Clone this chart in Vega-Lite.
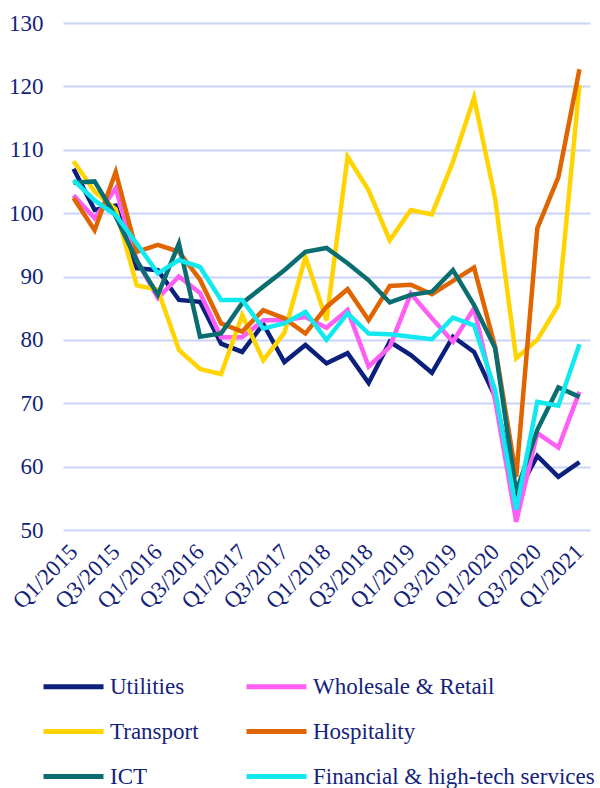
{
  "$schema": "https://vega.github.io/schema/vega-lite/v6.json",
  "width": 527,
  "height": 507,
  "autosize": {"type": "none"},
  "padding": {"left": 63, "top": 23, "right": 10, "bottom": 258},
  "config": {"view": {"stroke": null}, "font": "Liberation Serif"},
  "datasets": {
    "raw": [
      {"q":"Q1/2015","s":"Utilities","v":107.0},{"q":"Q2/2015","s":"Utilities","v":100.5},{"q":"Q3/2015","s":"Utilities","v":101.2},{"q":"Q4/2015","s":"Utilities","v":91.3},{"q":"Q1/2016","s":"Utilities","v":91.0},{"q":"Q2/2016","s":"Utilities","v":86.3},{"q":"Q3/2016","s":"Utilities","v":86.0},{"q":"Q4/2016","s":"Utilities","v":79.4},{"q":"Q1/2017","s":"Utilities","v":78.1},{"q":"Q2/2017","s":"Utilities","v":82.5},{"q":"Q3/2017","s":"Utilities","v":76.5},{"q":"Q4/2017","s":"Utilities","v":79.2},{"q":"Q1/2018","s":"Utilities","v":76.3},{"q":"Q2/2018","s":"Utilities","v":77.9},{"q":"Q3/2018","s":"Utilities","v":73.2},{"q":"Q4/2018","s":"Utilities","v":79.7},{"q":"Q1/2019","s":"Utilities","v":77.6},{"q":"Q2/2019","s":"Utilities","v":74.8},{"q":"Q3/2019","s":"Utilities","v":80.5},{"q":"Q4/2019","s":"Utilities","v":78.1},{"q":"Q1/2020","s":"Utilities","v":71.0},{"q":"Q2/2020","s":"Utilities","v":55.5},{"q":"Q3/2020","s":"Utilities","v":61.7},{"q":"Q4/2020","s":"Utilities","v":58.4},{"q":"Q1/2021","s":"Utilities","v":60.7},
      {"q":"Q1/2015","s":"Wholesale & Retail","v":102.8},{"q":"Q2/2015","s":"Wholesale & Retail","v":99.2},{"q":"Q3/2015","s":"Wholesale & Retail","v":103.9},{"q":"Q4/2015","s":"Wholesale & Retail","v":92.6},{"q":"Q1/2016","s":"Wholesale & Retail","v":86.6},{"q":"Q2/2016","s":"Wholesale & Retail","v":90.0},{"q":"Q3/2016","s":"Wholesale & Retail","v":87.4},{"q":"Q4/2016","s":"Wholesale & Retail","v":80.4},{"q":"Q1/2017","s":"Wholesale & Retail","v":80.4},{"q":"Q2/2017","s":"Wholesale & Retail","v":83.1},{"q":"Q3/2017","s":"Wholesale & Retail","v":83.1},{"q":"Q4/2017","s":"Wholesale & Retail","v":83.6},{"q":"Q1/2018","s":"Wholesale & Retail","v":81.9},{"q":"Q2/2018","s":"Wholesale & Retail","v":84.7},{"q":"Q3/2018","s":"Wholesale & Retail","v":75.8},{"q":"Q4/2018","s":"Wholesale & Retail","v":78.9},{"q":"Q1/2019","s":"Wholesale & Retail","v":87.3},{"q":"Q2/2019","s":"Wholesale & Retail","v":83.4},{"q":"Q3/2019","s":"Wholesale & Retail","v":79.7},{"q":"Q4/2019","s":"Wholesale & Retail","v":85.0},{"q":"Q1/2020","s":"Wholesale & Retail","v":70.5},{"q":"Q2/2020","s":"Wholesale & Retail","v":51.3},{"q":"Q3/2020","s":"Wholesale & Retail","v":65.3},{"q":"Q4/2020","s":"Wholesale & Retail","v":63.0},{"q":"Q1/2021","s":"Wholesale & Retail","v":71.8},
      {"q":"Q1/2015","s":"Transport","v":108.2},{"q":"Q2/2015","s":"Transport","v":103.4},{"q":"Q3/2015","s":"Transport","v":100.6},{"q":"Q4/2015","s":"Transport","v":88.6},{"q":"Q1/2016","s":"Transport","v":87.9},{"q":"Q2/2016","s":"Transport","v":78.4},{"q":"Q3/2016","s":"Transport","v":75.4},{"q":"Q4/2016","s":"Transport","v":74.6},{"q":"Q1/2017","s":"Transport","v":83.9},{"q":"Q2/2017","s":"Transport","v":76.8},{"q":"Q3/2017","s":"Transport","v":81.1},{"q":"Q4/2017","s":"Transport","v":93.1},{"q":"Q1/2018","s":"Transport","v":83.1},{"q":"Q2/2018","s":"Transport","v":108.9},{"q":"Q3/2018","s":"Transport","v":103.6},{"q":"Q4/2018","s":"Transport","v":95.7},{"q":"Q1/2019","s":"Transport","v":100.5},{"q":"Q2/2019","s":"Transport","v":99.8},{"q":"Q3/2019","s":"Transport","v":108.1},{"q":"Q4/2019","s":"Transport","v":118.2},{"q":"Q1/2020","s":"Transport","v":102.3},{"q":"Q2/2020","s":"Transport","v":77.1},{"q":"Q3/2020","s":"Transport","v":80.0},{"q":"Q4/2020","s":"Transport","v":85.5},{"q":"Q1/2021","s":"Transport","v":120.2},
      {"q":"Q1/2015","s":"Hospitality","v":102.4},{"q":"Q2/2015","s":"Hospitality","v":97.3},{"q":"Q3/2015","s":"Hospitality","v":106.5},{"q":"Q4/2015","s":"Hospitality","v":93.9},{"q":"Q1/2016","s":"Hospitality","v":95.0},{"q":"Q2/2016","s":"Hospitality","v":93.9},{"q":"Q3/2016","s":"Hospitality","v":89.5},{"q":"Q4/2016","s":"Hospitality","v":82.6},{"q":"Q1/2017","s":"Hospitality","v":81.3},{"q":"Q2/2017","s":"Hospitality","v":84.7},{"q":"Q3/2017","s":"Hospitality","v":83.4},{"q":"Q4/2017","s":"Hospitality","v":81.0},{"q":"Q1/2018","s":"Hospitality","v":85.2},{"q":"Q2/2018","s":"Hospitality","v":88.0},{"q":"Q3/2018","s":"Hospitality","v":83.1},{"q":"Q4/2018","s":"Hospitality","v":88.5},{"q":"Q1/2019","s":"Hospitality","v":88.7},{"q":"Q2/2019","s":"Hospitality","v":87.2},{"q":"Q3/2019","s":"Hospitality","v":89.3},{"q":"Q4/2019","s":"Hospitality","v":91.4},{"q":"Q1/2020","s":"Hospitality","v":78.9},{"q":"Q2/2020","s":"Hospitality","v":58.4},{"q":"Q3/2020","s":"Hospitality","v":97.6},{"q":"Q4/2020","s":"Hospitality","v":105.7},{"q":"Q1/2021","s":"Hospitality","v":122.7},
      {"q":"Q1/2015","s":"ICT","v":104.8},{"q":"Q2/2015","s":"ICT","v":105.0},{"q":"Q3/2015","s":"ICT","v":99.5},{"q":"Q4/2015","s":"ICT","v":92.5},{"q":"Q1/2016","s":"ICT","v":87.1},{"q":"Q2/2016","s":"ICT","v":95.2},{"q":"Q3/2016","s":"ICT","v":80.5},{"q":"Q4/2016","s":"ICT","v":81.0},{"q":"Q1/2017","s":"ICT","v":85.8},{"q":"Q2/2017","s":"ICT","v":88.4},{"q":"Q3/2017","s":"ICT","v":91.0},{"q":"Q4/2017","s":"ICT","v":93.9},{"q":"Q1/2018","s":"ICT","v":94.5},{"q":"Q2/2018","s":"ICT","v":92.1},{"q":"Q3/2018","s":"ICT","v":89.4},{"q":"Q4/2018","s":"ICT","v":85.9},{"q":"Q1/2019","s":"ICT","v":87.1},{"q":"Q2/2019","s":"ICT","v":87.6},{"q":"Q3/2019","s":"ICT","v":91.0},{"q":"Q4/2019","s":"ICT","v":85.5},{"q":"Q1/2020","s":"ICT","v":78.7},{"q":"Q2/2020","s":"ICT","v":56.0},{"q":"Q3/2020","s":"ICT","v":65.8},{"q":"Q4/2020","s":"ICT","v":72.5},{"q":"Q1/2021","s":"ICT","v":71.0},
      {"q":"Q1/2015","s":"Financial & high-tech services","v":105.2},{"q":"Q2/2015","s":"Financial & high-tech services","v":102.0},{"q":"Q3/2015","s":"Financial & high-tech services","v":99.7},{"q":"Q4/2015","s":"Financial & high-tech services","v":95.2},{"q":"Q1/2016","s":"Financial & high-tech services","v":90.5},{"q":"Q2/2016","s":"Financial & high-tech services","v":92.6},{"q":"Q3/2016","s":"Financial & high-tech services","v":91.5},{"q":"Q4/2016","s":"Financial & high-tech services","v":86.3},{"q":"Q1/2017","s":"Financial & high-tech services","v":86.3},{"q":"Q2/2017","s":"Financial & high-tech services","v":81.8},{"q":"Q3/2017","s":"Financial & high-tech services","v":82.6},{"q":"Q4/2017","s":"Financial & high-tech services","v":84.4},{"q":"Q1/2018","s":"Financial & high-tech services","v":80.0},{"q":"Q2/2018","s":"Financial & high-tech services","v":84.2},{"q":"Q3/2018","s":"Financial & high-tech services","v":81.0},{"q":"Q4/2018","s":"Financial & high-tech services","v":80.9},{"q":"Q1/2019","s":"Financial & high-tech services","v":80.5},{"q":"Q2/2019","s":"Financial & high-tech services","v":80.1},{"q":"Q3/2019","s":"Financial & high-tech services","v":83.5},{"q":"Q4/2019","s":"Financial & high-tech services","v":82.3},{"q":"Q1/2020","s":"Financial & high-tech services","v":72.1},{"q":"Q2/2020","s":"Financial & high-tech services","v":53.2},{"q":"Q3/2020","s":"Financial & high-tech services","v":70.2},{"q":"Q4/2020","s":"Financial & high-tech services","v":69.6},{"q":"Q1/2021","s":"Financial & high-tech services","v":79.3}
    ]
  },
  "data": {"name": "raw"},
  "mark": {"type": "line", "strokeWidth": 4.5},
  "encoding": {
    "x": {
      "field": "q", "type": "ordinal", "sort": null,
      "scale": {"type": "point", "padding": 0.5},
      "axis": {
        "title": null,
        "values": ["Q1/2015","Q3/2015","Q1/2016","Q3/2016","Q1/2017","Q3/2017","Q1/2018","Q3/2018","Q1/2019","Q3/2019","Q1/2020","Q3/2020","Q1/2021"],
        "labelAngle": -45, "labelAlign": "right", "labelBaseline": "middle",
        "labelFontSize": 23, "labelColor": "#14237a", "labelFont": "Liberation Serif",
        "domain": false, "ticks": false, "grid": false, "labelPadding": 18, "labelOverlap": false
      }
    },
    "y": {
      "field": "v", "type": "quantitative",
      "scale": {"domain": [50, 130], "nice": false, "zero": false},
      "axis": {
        "title": null, "values": [50, 60, 70, 80, 90, 100, 110, 120, 130],
        "labelFontSize": 23, "labelColor": "#14237a", "labelFont": "Liberation Serif",
        "domain": false, "ticks": false, "labelPadding": 20,
        "gridColor": "#c9d3f7", "gridWidth": 2, "gridOpacity": 1
      }
    },
    "color": {
      "field": "s", "type": "nominal",
      "scale": {
        "domain": ["Utilities", "Wholesale & Retail", "Transport", "Hospitality", "ICT", "Financial & high-tech services"],
        "range": ["#0b1f7d", "#ff5ef5", "#ffd400", "#e06400", "#0a6e70", "#12e8ef"]
      },
      "legend": {
        "title": null, "orient": "none", "legendX": -22, "legendY": 631,
        "direction": "horizontal", "columns": 2,
        "symbolType": "stroke", "symbolSize": 3600, "symbolStrokeWidth": 5,
        "labelFontSize": 23, "labelFont": "Liberation Serif", "labelColor": "#14237a",
        "labelOffset": 4, "columnPadding": 37, "rowPadding": -4, "labelLimit": 400
      }
    }
  }
}
